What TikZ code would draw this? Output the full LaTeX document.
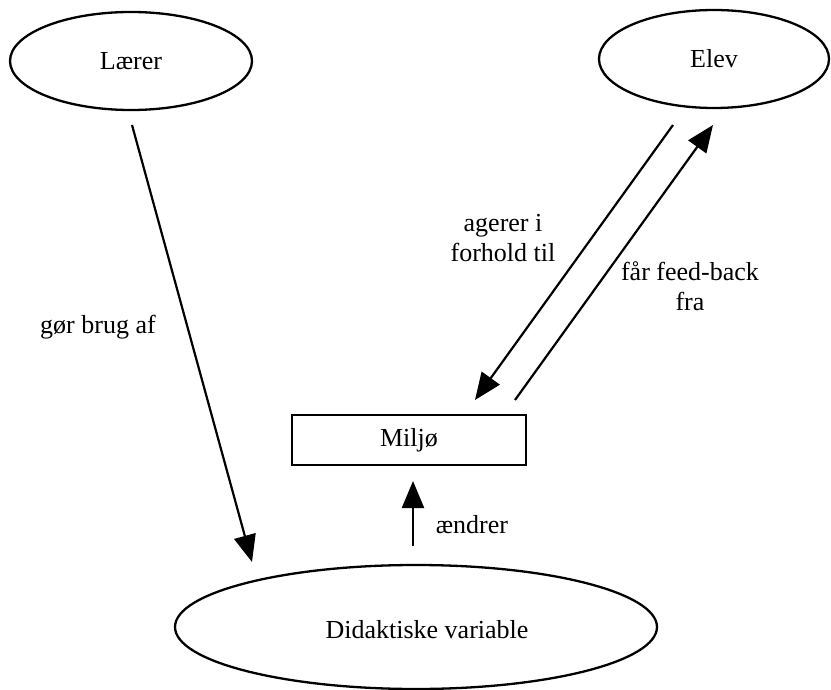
\documentclass[tikz,border=0pt]{standalone}
\usepackage{fontspec}
\setmainfont{Liberation Serif}
\usetikzlibrary{shapes.geometric,arrows.meta}
\begin{document}
\begin{tikzpicture}[x=1pt,y=-1pt,
  every node/.style={font=\fontsize{26}{29.5}\selectfont},
  oval/.style={draw,ellipse,line width=2.3pt,inner sep=0pt},
  box/.style={draw,rectangle,line width=1.8pt,inner sep=0pt},
  conn/.style={line width=2.2pt,-{Triangle[length=27pt,width=22pt]}},
  lbl/.style={align=center,inner sep=0pt}]
\useasboundingbox (0,0) rectangle (831,690);
\node[oval,minimum width=242pt,minimum height=98pt] (laerer) at (131,61) {Lærer};
\node[oval,minimum width=230pt,minimum height=98pt] (elev) at (714,59) {Elev};
\node[oval,minimum width=482pt,minimum height=124pt] (didak) at (416,627) {};
\node[lbl] (didaktxt) at (427,630) {Didaktiske variable};
\node[box,minimum width=234pt,minimum height=50pt] (miljo) at (409,440) {Milj\o};
\coordinate (a1) at (132,125);
\coordinate (a2) at (252,562);
\coordinate (b1) at (673,125);
\coordinate (b2) at (475,400);
\coordinate (c1) at (515,400);
\coordinate (c2) at (713,125);
\coordinate (d1) at (413,546);
\coordinate (d2) at (413,481);
\draw[conn] (a1) -- (a2);
\draw[conn] (b1) -- (b2);
\draw[conn] (c1) -- (c2);
\draw[conn] (d1) -- (d2);
\node[lbl] (l1) at (98,327) {gør brug af};
\node[lbl] (l2) at (503,238) {agerer i\\forhold til};
\node[lbl] (l3) at (690,286) {får feed-back\\fra};
\node[lbl] (l4) at (472,525) {ændrer};
\end{tikzpicture}
\end{document}
